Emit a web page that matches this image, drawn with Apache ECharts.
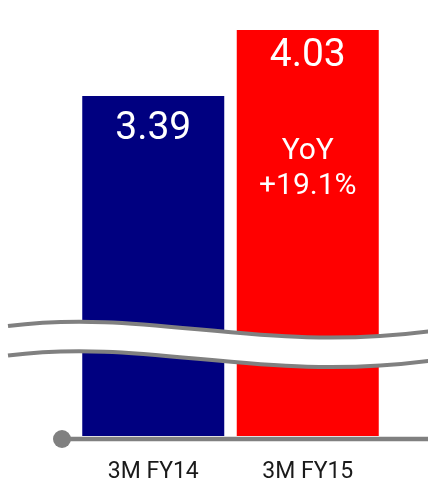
<!DOCTYPE html>
<html>
<head>
<meta charset="utf-8">
<script src="https://cdn.jsdelivr.net/npm/echarts@6/dist/echarts.min.js"></script>
<style>
  html, body { margin: 0; padding: 0; background: #fff; }
  #chart { width: 428px; height: 485px; }
</style>
</head>
<body>
<div id="chart"></div>
<script>
// Quarterly figures (three months of each fiscal year)
const periods = ['3M FY14', '3M FY15'];
const values = [3.39, 4.03];
const barColors = ['#000080', '#ff0000'];
const yoyLabel = 'YoY';
const yoyChange = '+19.1%';

const GRAY = '#808080';
const FONT = 'Roboto, "Noto Sans", sans-serif';

const chart = echarts.init(document.getElementById('chart'), null, { renderer: 'canvas' });

const seriesData = values.map((v, i) => {
  const item = { value: v, itemStyle: { color: barColors[i] } };
  if (i === 1) {
    item.label = {
      distance: 6,
      formatter: (p) => '{v|' + p.value.toFixed(2) + '}\n{gap| }\n{y|' + yoyLabel + '}\n{y|' + yoyChange + '}'
    };
  } else {
    item.label = { distance: 13 };
  }
  return item;
});

// Wavy break marker: one cubic curve, repeated with a vertical offset
const wave = { x1: 8, y1: 326, cpx1: 150, cpy1: 308, cpx2: 260, cpy2: 354, x2: 432, y2: 331 };
const waveGap = 29.5;

function shifted(s, dy) {
  return { x1: s.x1, y1: s.y1 + dy, cpx1: s.cpx1, cpy1: s.cpy1 + dy,
           cpx2: s.cpx2, cpy2: s.cpy2 + dy, x2: s.x2, y2: s.y2 + dy };
}
function curvePoints(s, steps) {
  const pts = [];
  for (let k = 0; k <= steps; k++) {
    const t = k / steps, u = 1 - t;
    const a = u * u * u, b = 3 * u * u * t, c = 3 * u * t * t, d = t * t * t;
    pts.push([a * s.x1 + b * s.cpx1 + c * s.cpx2 + d * s.x2,
              a * s.y1 + b * s.cpy1 + c * s.cpy2 + d * s.y2]);
  }
  return pts;
}
const lowerWave = shifted(wave, waveGap);
const bandPoints = curvePoints(wave, 60).concat(curvePoints(lowerWave, 60).reverse());

chart.setOption({
  animation: false,
  backgroundColor: '#ffffff',
  grid: { left: 76, width: 309, top: 30, bottom: 49, containLabel: false },
  xAxis: {
    type: 'category',
    data: periods,
    axisLine: { show: false },
    axisTick: { show: false },
    axisLabel: {
      margin: 25,
      fontFamily: FONT,
      fontSize: 23,
      lineHeight: 23,
      color: '#1a1a1a'
    }
  },
  yAxis: {
    type: 'value',
    min: 0.1,
    max: 4.03,
    show: false,
    splitLine: { show: false }
  },
  series: [{
    type: 'bar',
    barWidth: 142,
    data: seriesData,
    label: {
      show: true,
      position: 'insideTop',
      color: '#ffffff',
      fontFamily: FONT,
      fontSize: 39,
      lineHeight: 40,
      formatter: (p) => '{v|' + p.value.toFixed(2) + '}',
      rich: {
        v: { fontFamily: FONT, fontSize: 39, lineHeight: 40, color: '#ffffff' },
        gap: { fontSize: 10, lineHeight: 58 },
        y: { fontFamily: FONT, fontSize: 30, lineHeight: 35, color: '#ffffff' }
      }
    }
  }],
  graphic: [
    { type: 'polygon', z: 100, shape: { points: bandPoints }, style: { fill: '#ffffff' } },
    { type: 'bezierCurve', z: 101, shape: wave, style: { fill: null, stroke: GRAY, lineWidth: 4 } },
    { type: 'bezierCurve', z: 101, shape: lowerWave, style: { fill: null, stroke: GRAY, lineWidth: 4 } },
    { type: 'line', z: 101, shape: { x1: 62, y1: 439, x2: 430, y2: 439 }, style: { stroke: GRAY, lineWidth: 4.5 } },
    { type: 'circle', z: 102, shape: { cx: 62, cy: 439, r: 9 }, style: { fill: GRAY } }
  ]
});
</script>
</body>
</html>
